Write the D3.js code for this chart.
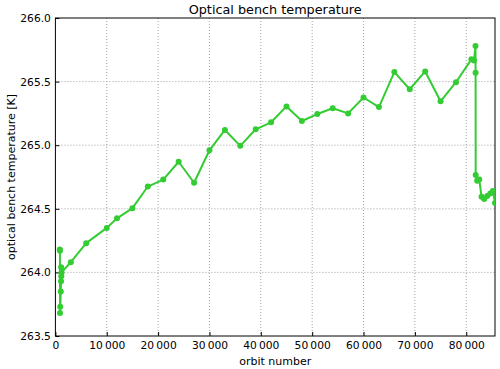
<!DOCTYPE html>
<html>
<head>
<meta charset="utf-8">
<script src="https://cdn.jsdelivr.net/npm/d3@7"></script>
<style>
  body { margin: 0; background: #fff; }
  text { font-family: "DejaVu Sans", sans-serif; fill: #000; }
</style>
</head>
<body>
<div id="chart"></div>
<script>
// orbit numbers and optical bench temperatures [K], in plotting order
const orbits = [850, 880, 900, 950, 1050, 1100, 1150, 1120, 1200,
  3000, 6000, 10000, 12000, 15000, 18000, 21000, 24000, 27000,
  30000, 33000, 36000, 39000, 42000, 45000, 48000, 51000, 54000, 57000,
  60000, 63000, 66000, 69000, 72000, 75000, 78000, 81000, 81500,
  81800, 81820, 81840, 82130, 82530, 82980, 83500, 84090, 84680, 85190, 85600];
const temps = [264.18, 264.17, 263.68, 263.73, 263.85, 263.93, 263.97, 264.04, 264.00,
  264.08, 264.23, 264.35, 264.425, 264.505, 264.675, 264.73, 264.87, 264.705,
  264.96, 265.12, 264.995, 265.125, 265.18, 265.305, 265.19, 265.245, 265.29, 265.25,
  265.375, 265.30, 265.575, 265.44, 265.58, 265.345, 265.495, 265.675, 265.665,
  265.78, 265.57, 264.765, 264.72, 264.73, 264.595, 264.577, 264.60, 264.62, 264.64, 264.545];
const xTicks = [0, 10000, 20000, 30000, 40000, 50000, 60000, 70000, 80000];
const yTicks = [263.5, 264.0, 264.5, 265.0, 265.5, 266.0];

const w = 500, h = 369;
const mLeft = 55.4, mRight = 495, mTop = 18, mBottom = 336;

const data = orbits.map((o, i) => ({ x: o, y: temps[i] }));

const svg = d3.select("#chart").append("svg")
  .attr("width", w).attr("height", h);

const x = d3.scaleLinear().domain([0, d3.max(orbits)]).range([mLeft, mRight]);
const y = d3.scaleLinear().domain([263.5, 266.0]).range([mBottom, mTop]);

// grid
svg.append("g").selectAll("line").data(xTicks.slice(1)).enter().append("line")
  .attr("x1", d => x(d)).attr("x2", d => x(d))
  .attr("y1", mTop).attr("y2", mBottom)
  .attr("stroke", "#a0a0a0").attr("stroke-width", 1).attr("stroke-dasharray", "1,2");
svg.append("g").selectAll("line").data(yTicks.slice(1, -1)).enter().append("line")
  .attr("x1", mLeft).attr("x2", mRight)
  .attr("y1", d => y(d)).attr("y2", d => y(d))
  .attr("stroke", "#a0a0a0").attr("stroke-width", 1).attr("stroke-dasharray", "1,2");

// axes (ticks inside, like classic matplotlib)
const fmtX = d => d3.format(",")(d).replace(/,/g, "\u2009");
const xAxis = d3.axisBottom(x).tickValues(xTicks).tickFormat(fmtX).tickSizeInner(-4).tickSizeOuter(0).tickPadding(5);
const yAxis = d3.axisLeft(y).tickValues(yTicks).tickFormat(d3.format(".1f")).tickSizeInner(-4).tickSizeOuter(0).tickPadding(4.5);

const gx = svg.append("g").attr("transform", "translate(0," + mBottom + ")").call(xAxis);
const gy = svg.append("g").attr("transform", "translate(" + mLeft + ",0)").call(yAxis);
[gx, gy].forEach(g => {
  g.select(".domain").remove();
  g.selectAll("text").style("font-size", "10.7px").style("font-family", "DejaVu Sans");
  g.selectAll("line").attr("stroke", "#000");
});

// frame
svg.append("rect").attr("x", mLeft).attr("y", mTop)
  .attr("width", mRight - mLeft).attr("height", mBottom - mTop)
  .attr("fill", "none").attr("stroke", "#000").attr("stroke-width", 1);

// line and markers
svg.append("clipPath").attr("id", "clip").append("rect")
  .attr("x", mLeft).attr("y", mTop).attr("width", mRight - mLeft).attr("height", mBottom - mTop);
const plot = svg.append("g").attr("clip-path", "url(#clip)");
const line = d3.line().x(d => x(d.x)).y(d => y(d.y));
plot.append("path").datum(data).attr("d", line)
  .attr("fill", "none").attr("stroke", "#33cc33").attr("stroke-width", 2).attr("stroke-linejoin", "round");
plot.selectAll("circle").data(data).enter().append("circle")
  .attr("cx", d => x(d.x)).attr("cy", d => y(d.y)).attr("r", 3)
  .attr("fill", "#33cc33");

// titles
svg.append("text").attr("x", (mLeft + mRight) / 2).attr("y", 14)
  .attr("text-anchor", "middle").style("font-size", "12.8px").text("Optical bench temperature");
svg.append("text").attr("x", (mLeft + mRight) / 2).attr("y", 365)
  .attr("text-anchor", "middle").style("font-size", "11px").text("orbit number");
svg.append("text").attr("transform", "translate(15," + ((mTop + mBottom) / 2) + ") rotate(-90)")
  .attr("text-anchor", "middle").style("font-size", "11px").text("optical bench temperature [K]");
</script>
</body>
</html>
